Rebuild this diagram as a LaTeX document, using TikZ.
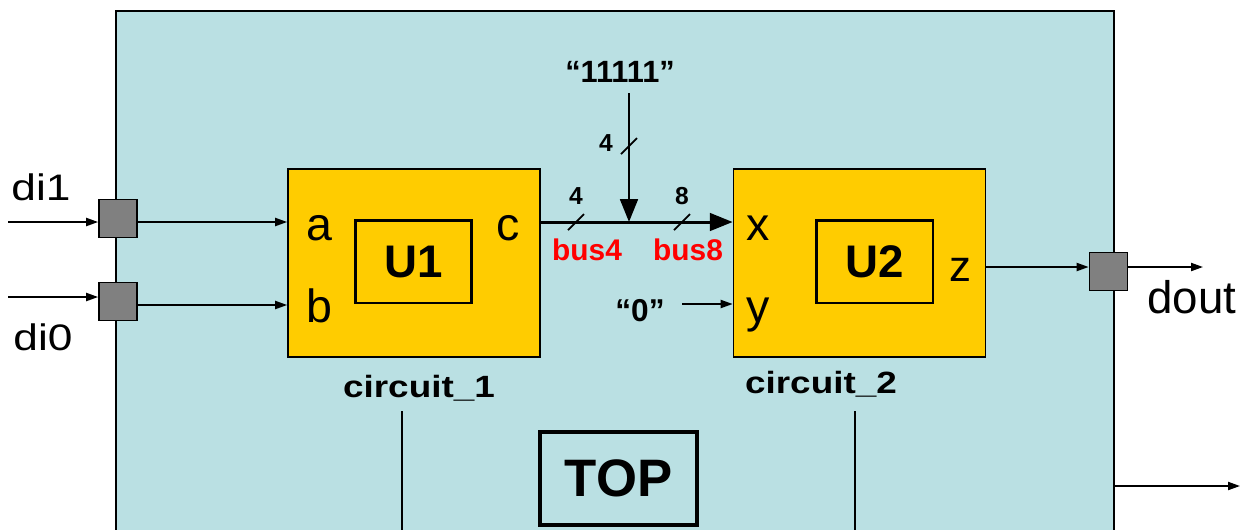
\documentclass[tikz,border=0pt]{standalone}
\usepackage{fontspec}
\setmainfont{Liberation Sans}
\newfontfamily\widesans[FakeStretch=1.2]{Liberation Sans}
\usetikzlibrary{arrows.meta,positioning}
\definecolor{topblue}{HTML}{BAE0E3}
\definecolor{compyellow}{HTML}{FFCC00}

\begin{document}
\begin{tikzpicture}[
    x=0.02cm, y=-0.02cm,
    font=\fontsize{21}{24}\selectfont,
    comp/.style={draw, line width=1pt, fill=compyellow, minimum width=5.04cm, minimum height=3.76cm, inner sep=0pt},
    inst/.style={draw, line width=1.7pt, minimum width=2.34cm, minimum height=1.66cm, inner sep=0pt, font=\fontsize{26}{30}\selectfont\bfseries},
    port/.style={draw, line width=1pt, fill=gray, minimum size=0.76cm, inner sep=0pt},
    pin/.style={anchor=base, inner sep=0pt, font=\fontsize{26.5}{30}\selectfont},
    io/.style={font=\widesans\fontsize{21}{24}\selectfont},
    lbl/.style={font=\fontsize{17.5}{20}\selectfont\bfseries},
    cname/.style={font=\widesans\fontsize{17.5}{20}\selectfont\bfseries},
    buslbl/.style={font=\fontsize{17}{20}\selectfont\bfseries, text=red},
    wid/.style={font=\fontsize{14}{16}\selectfont\bfseries},
    arr/.style={-{Triangle[length=6.8pt,width=4.6pt]}, line width=1pt},
    busarr/.style={-{Triangle[length=13pt,width=10pt]}, line width=1.7pt},
    wire/.style={line width=1pt},
]
    \useasboundingbox (0,0) rectangle (1242,529);
    \begin{scope}
    \clip (0,0) rectangle (1242,529);

    % Top-level entity
    \node[draw, line width=1pt, fill=topblue, anchor=north west, minimum width=19.96cm, minimum height=10.8cm] (topbox) at (115,10) {};
    \node[draw, line width=2.4pt, minimum width=3.14cm, minimum height=1.86cm, font=\fontsize{30}{34}\selectfont\bfseries] (topname) at (618.5,478.5) {TOP};

    % Components and instances
    \node[comp] (c1) at (414,263) {};
    \node[comp] (c2) at (859.5,263) {};
    \node[inst] (u1) at (413.5,261.5) {U1};
    \node[inst] (u2) at (874.5,261.5) {U2};
    \node[cname] (cname1) at (419,388) {circuit\_1};
    \node[cname] (cname2) at (821,384) {circuit\_2};

    % Pin names
    \node[pin] (pa) at (319,240) {a};
    \node[pin] (pb) at (319,322) {b};
    \node[pin] (pc) at (508,240) {c};
    \node[pin] (px) at (758,240) {x};
    \node[pin] (py) at (758,322) {y};
    \node[pin, font=\fontsize{25}{28}\selectfont] (pz) at (960,281) {z};

    % Ports of TOP
    \node[port] (di1sq) at (118,218.5) {};
    \node[port] (di0sq) at (118,301.5) {};
    \node[port] (doutsq) at (1108.5,271.5) {};
    \node[io] (di1) at (41,187) {di1};
    \node[io] (di0) at (43,337) {di0};
    \node[font=\fontsize{26}{30}\selectfont] (dout) at (1192,297) {dout};

    \coordinate (in1) at (8,222);
    \coordinate (in0) at (8,297);
    \coordinate (lineb) at (137,305);
    \coordinate (linez) at (985,267);
    \coordinate (outz) at (1203,267);

    \draw[arr] (in1) -- (di1sq.west |- in1);
    \draw[arr] (di1sq.east |- in1) -- (c1.west |- in1);
    \draw[arr] (in0) -- (di0sq.west |- in0);
    \draw[arr] (lineb) -- (c1.west |- lineb);
    \draw[arr] (linez) -- (doutsq.west |- linez);
    \draw[arr] (doutsq.east |- outz) -- (outz);

    % Buses
    \coordinate (bus) at (540,222);
    \coordinate (join) at (629,222);
    \coordinate (ones0) at (629,93);
    \node[lbl] (ones) at (620,71.5) {“11111”};
    \draw[busarr] (bus) -- (c2.west |- bus);
    \draw[busarr] (ones0) -- (join);

    % Width marks
    \foreach \sx/\sy in {629/146, 576/222, 682/222}
        \draw[wire] (\sx,\sy) +(-8,8) -- +(8,-8);
    \node[wid] (w4v) at (606,143.5) {4};
    \node[wid] (w4) at (576,196) {4};
    \node[wid] (w8) at (682,196) {8};
    \node[buslbl] (bus4) at (587,250) {bus4};
    \node[buslbl] (bus8) at (688,250) {bus8};

    % Constant on y
    \node[font=\fontsize{18}{21}\selectfont\bfseries] (zero) at (640,311) {“0”};
    \coordinate (zero0) at (682,304);
    \draw[arr] (zero0) -- (c2.west |- zero0);

    % Leader lines and output at bottom
    \coordinate (lead1) at (402,411);
    \coordinate (lead1b) at (402,540);
    \coordinate (lead2) at (855,411);
    \coordinate (lead2b) at (855,540);
    \coordinate (outb) at (1240,486);
    \draw[wire] (lead1) -- (lead1b);
    \draw[wire] (lead2) -- (lead2b);
    \draw[arr] (topbox.east |- outb) -- (outb);
    \end{scope}
\end{tikzpicture}
\end{document}
